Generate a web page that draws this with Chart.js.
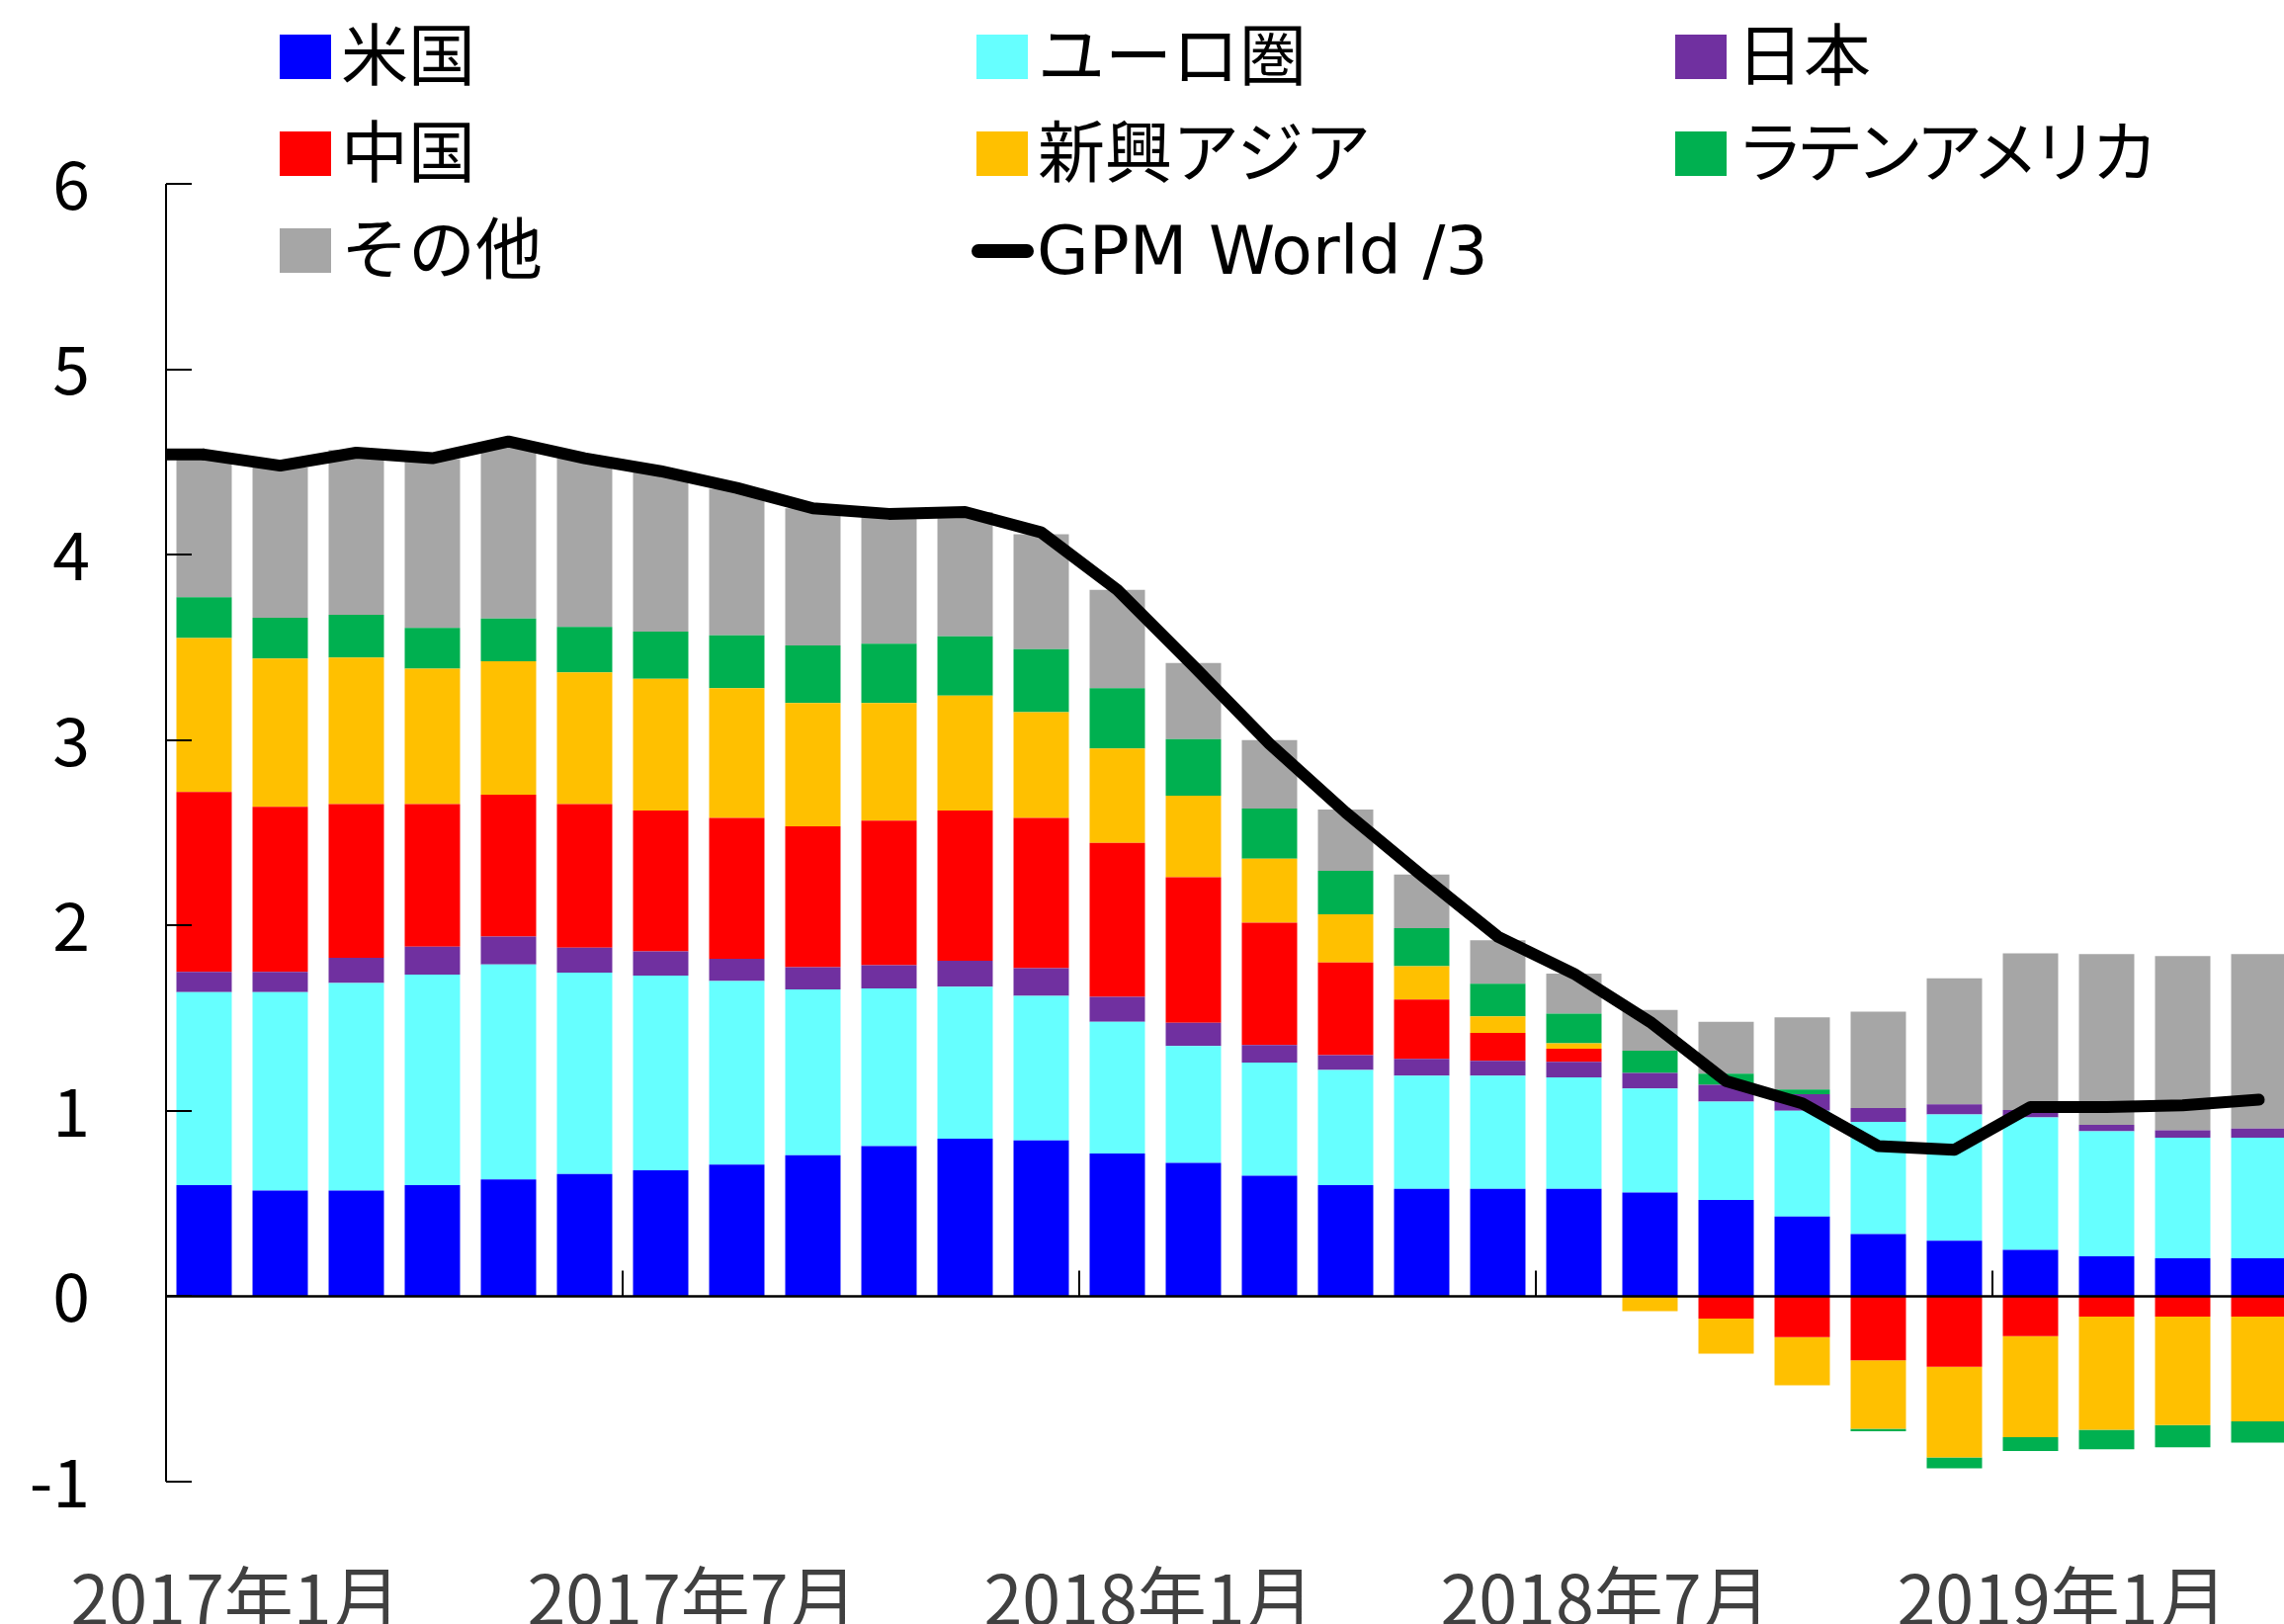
<!DOCTYPE html>
<html>
<head>
<meta charset="utf-8">
<script src="https://cdn.jsdelivr.net/npm/chart.js@4.4.1/dist/chart.umd.min.js"></script>
<style>
html,body{margin:0;padding:0;background:#fff;overflow:hidden;}
#wrap{position:relative;width:2330px;height:1643px;}
#c{position:absolute;left:0;top:0;}
.lg{position:absolute;display:flex;align-items:center;height:98px;line-height:98px;font-family:'DejaVu Sans','Noto Sans CJK JP',sans-serif;font-size:68px;color:#000;white-space:nowrap;}
.sw{width:52px;height:45px;margin-right:10px;flex:none;}
.ln{width:63px;height:14px;border-radius:7px;background:#000;margin-right:3px;flex:none;}
</style>
</head>
<body>
<div id="wrap">
<canvas id="c" width="2330" height="1643"></canvas>
</div>
<script>
// ---- data ----
const months = ['2017年1月','2017年2月','2017年3月','2017年4月','2017年5月','2017年6月','2017年7月','2017年8月','2017年9月','2017年10月','2017年11月','2017年12月',
                '2018年1月','2018年2月','2018年3月','2018年4月','2018年5月','2018年6月','2018年7月','2018年8月','2018年9月','2018年10月','2018年11月','2018年12月',
                '2019年1月','2019年2月','2019年3月','2019年4月'];
const labelEvery = 6;

const usData    = [0.60,0.57,0.57,0.60,0.63,0.66,0.68,0.71,0.76,0.81,0.85,0.84,0.77,0.72,0.65,0.60,0.58,0.58,0.58,0.56,0.52,0.43,0.335,0.30,0.25,0.215,0.205,0.205];
const euroData  = [1.04,1.07,1.12,1.135,1.16,1.085,1.05,0.99,0.895,0.85,0.82,0.78,0.71,0.63,0.61,0.62,0.61,0.61,0.60,0.56,0.53,0.57,0.605,0.68,0.715,0.675,0.65,0.65];
const japanData = [0.11,0.11,0.135,0.15,0.15,0.135,0.13,0.12,0.12,0.125,0.14,0.15,0.135,0.125,0.095,0.08,0.09,0.08,0.085,0.085,0.09,0.09,0.075,0.055,0.04,0.035,0.04,0.05];
const chinaData = [0.97,0.89,0.83,0.77,0.765,0.775,0.76,0.76,0.76,0.78,0.81,0.81,0.83,0.785,0.66,0.50,0.32,0.15,0.07,-0.005,-0.12,-0.22,-0.345,-0.38,-0.215,-0.11,-0.11,-0.11];
const emAsiaData= [0.83,0.80,0.79,0.73,0.72,0.71,0.71,0.70,0.665,0.635,0.62,0.57,0.51,0.44,0.345,0.26,0.18,0.09,0.03,-0.075,-0.19,-0.26,-0.37,-0.49,-0.545,-0.61,-0.585,-0.565];
const latamData = [0.22,0.22,0.23,0.22,0.23,0.245,0.255,0.285,0.31,0.32,0.32,0.34,0.325,0.305,0.27,0.235,0.205,0.175,0.16,0.12,0.06,0.025,-0.013,-0.058,-0.075,-0.105,-0.12,-0.115];
const otherData = [0.76,0.81,0.89,0.91,0.95,0.91,0.86,0.79,0.74,0.70,0.67,0.62,0.53,0.41,0.37,0.33,0.29,0.235,0.215,0.22,0.28,0.39,0.52,0.68,0.845,0.92,0.94,0.94];
const gpmWorld  = [4.54,4.48,4.55,4.52,4.61,4.52,4.45,4.36,4.25,4.22,4.23,4.12,3.81,3.40,2.98,2.61,2.27,1.94,1.74,1.48,1.16,1.04,0.81,0.79,1.02,1.02,1.03,1.06];

const seriesNames  = ['米国','ユーロ圏','日本','中国','新興アジア','ラテンアメリカ','その他'];
const seriesData   = [usData, euroData, japanData, chinaData, emAsiaData, latamData, otherData];
const seriesColors = ['#0000FF','#66FFFF','#7030A0','#FF0000','#FFC000','#00B050','#A6A6A6'];
const lineName  = 'GPM World /3';
const lineColor = '#000000';
const yMin = -1, yMax = 6, yStep = 1;

// ---- legend (HTML text) ----
const legendOrder = [
  {name: seriesNames[0], color: seriesColors[0]}, {name: seriesNames[1], color: seriesColors[1]}, {name: seriesNames[2], color: seriesColors[2]},
  {name: seriesNames[3], color: seriesColors[3]}, {name: seriesNames[4], color: seriesColors[4]}, {name: seriesNames[5], color: seriesColors[5], tight: true},
  {name: seriesNames[6], color: seriesColors[6]}, {name: lineName, color: lineColor, line: true}
];
const colLeft = [283, 988, 1695];
const rowTop = [8.5, 106.5, 204.5];
const wrap = document.getElementById('wrap');
legendOrder.forEach((it, i) => {
  const d = document.createElement('div');
  d.className = 'lg';
  const col = i % 3, row = Math.floor(i / 3);
  d.style.left = (it.line ? colLeft[col] - 5 : colLeft[col]) + 'px';
  d.style.top = rowTop[row] + 'px';
  const s = document.createElement('span');
  s.className = it.line ? 'ln' : 'sw';
  s.style.background = it.color;
  const t = document.createElement('span');
  t.textContent = it.name;
  if (it.tight) t.style.letterSpacing = '-7.6px';
  d.appendChild(s); d.appendChild(t);
  wrap.appendChild(d);
});

// ---- axes drawn Excel-style (inside ticks, x axis at zero) ----
const axesPlugin = {
  id: 'axesPlugin',
  afterDatasetsDraw(chart) {
    const {ctx, chartArea: a, scales: {x, y}} = chart;
    const y0 = y.getPixelForValue(0);
    ctx.save();
    ctx.strokeStyle = '#000';
    ctx.lineWidth = 2;
    ctx.beginPath();
    ctx.moveTo(a.left, y.getPixelForValue(yMax));
    ctx.lineTo(a.left, y.getPixelForValue(yMin));
    for (let v = yMin; v <= yMax; v += yStep) {
      const py = Math.round(y.getPixelForValue(v));
      ctx.moveTo(a.left, py);
      ctx.lineTo(a.left + 26, py);
    }
    ctx.stroke();
    ctx.beginPath();
    ctx.lineWidth = 2.5;
    ctx.moveTo(a.left, y0);
    ctx.lineTo(a.right, y0);
    ctx.stroke();
    ctx.beginPath();
    ctx.lineWidth = 2;
    for (let i = labelEvery; i < months.length; i += labelEvery) {
      const px = Math.round((x.getPixelForValue(i - 1) + x.getPixelForValue(i)) / 2);
      ctx.moveTo(px, y0);
      ctx.lineTo(px, y0 - 26);
    }
    ctx.stroke();
    // line starts at the axis (flat lead-in to the first point)
    const lineMeta = chart.getDatasetMeta(seriesNames.length);
    const p0 = lineMeta.data[0];
    ctx.beginPath();
    ctx.strokeStyle = lineColor;
    ctx.lineWidth = 12;
    ctx.lineCap = 'butt';
    ctx.moveTo(a.left, p0.y);
    ctx.lineTo(p0.x, p0.y);
    ctx.stroke();
    ctx.restore();
  }
};

Chart.defaults.font.family = "'Noto Sans CJK JP', sans-serif";

const datasets = seriesNames.map((n, i) => ({
  type: 'bar',
  label: n,
  data: seriesData[i],
  backgroundColor: seriesColors[i],
  borderWidth: 0,
  stack: 'contrib',
  order: 2,
  categoryPercentage: 1.0,
  barPercentage: 0.727
}));
datasets.push({
  type: 'line',
  label: lineName,
  data: gpmWorld,
  borderColor: lineColor,
  backgroundColor: lineColor,
  borderWidth: 12,
  borderCapStyle: 'round',
  borderJoinStyle: 'round',
  pointRadius: 0,
  tension: 0,
  fill: false,
  stack: 'total',
  order: 0
});

new Chart(document.getElementById('c'), {
  data: {labels: months, datasets},
  options: {
    responsive: false,
    animation: false,
    devicePixelRatio: 1,
    layout: {padding: {top: 186, right: 6, bottom: 0, left: 0}},
    plugins: {legend: {display: false}, tooltip: {enabled: false}},
    scales: {
      x: {
        stacked: true,
        offset: true,
        grid: {display: false},
        border: {display: false},
        ticks: {
          autoSkip: false,
          maxRotation: 0,
          minRotation: 0,
          labelOffset: 32,
          padding: 68,
          color: '#404040',
          font: {size: 70},
          callback: function(v, i) { return i % labelEvery === 0 ? this.getLabelForValue(v) : ''; }
        },
        afterFit: (s) => { s.height = 144; s.paddingLeft = 0; s.paddingRight = 0; }
      },
      y: {
        stacked: true,
        min: yMin,
        max: yMax,
        grid: {display: false},
        border: {display: false},
        ticks: {stepSize: yStep, padding: 69, color: '#000', font: {size: 68}},
        afterFit: (s) => { s.width = 168; s.paddingTop = 0; s.paddingBottom = 0; }
      }
    }
  },
  plugins: [axesPlugin]
});
</script>
</body>
</html>
